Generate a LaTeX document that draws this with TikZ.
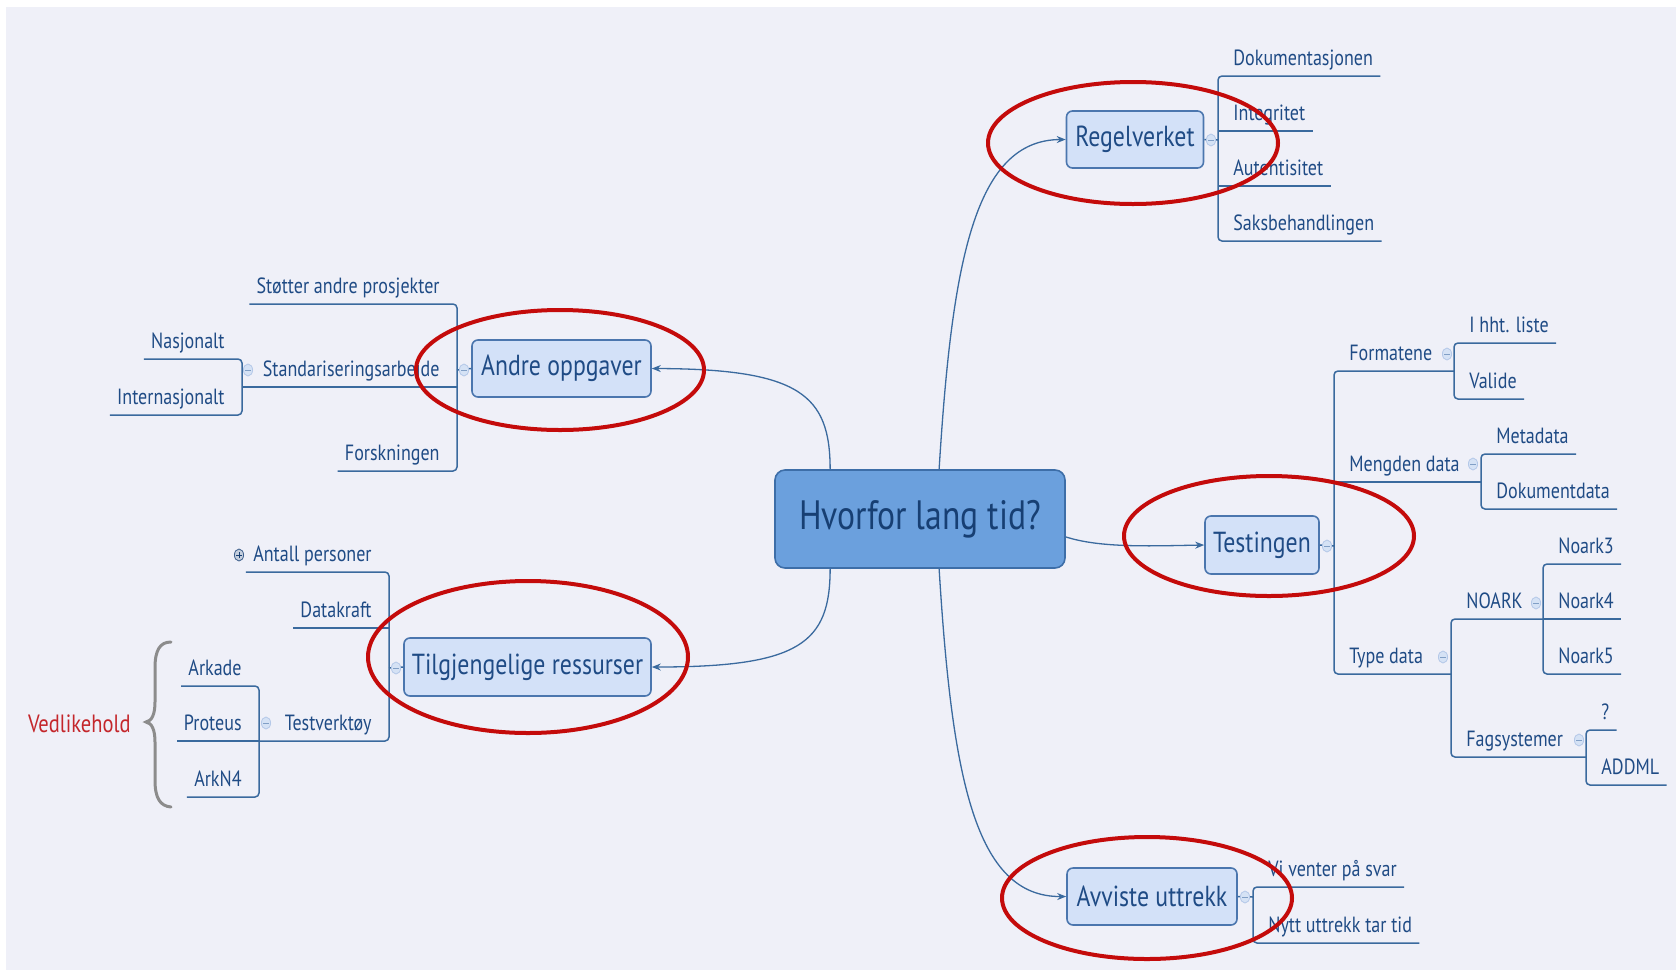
\documentclass[tikz,border=0pt]{standalone}
\usepackage{fontspec}
\setmainfont{PT Sans}[FakeStretch=0.82]
\usetikzlibrary{arrows.meta,shapes.geometric}

\definecolor{paper}{HTML}{EFF0F8}
\definecolor{ink}{HTML}{1F4B85}
\definecolor{rootink}{HTML}{173F73}
\definecolor{wire}{HTML}{3A6A9E}
\definecolor{topicfill}{HTML}{D3E1F8}
\definecolor{topicline}{HTML}{4B76AE}
\definecolor{rootfill}{HTML}{6BA0DD}
\definecolor{rootline}{HTML}{3D6EA8}
\definecolor{ringred}{HTML}{C40B0B}
\definecolor{foldfill}{HTML}{D5E2F5}
\definecolor{foldline}{HTML}{B4C8E8}
\definecolor{bracegray}{HTML}{8C8C8C}
\definecolor{notered}{HTML}{C4262B}

\tikzset{
  root/.style={draw=rootline, fill=rootfill, line width=0.8pt, rounded corners=5pt,
    minimum width=145pt, minimum height=49pt, text=rootink,
    font=\fontsize{20.5}{24}\selectfont},
  topic/.style={draw=topicline, fill=topicfill, line width=0.8pt, rounded corners=3pt,
    minimum height=28.5pt, inner xsep=2pt, text=ink,
    font=\fontsize{14.5}{17}\selectfont},
  leafR/.style={font=\fontsize{11}{13}\selectfont, text=ink, inner xsep=3.5pt,
    inner ysep=0pt, text depth=5pt, anchor=south west},
  leafL/.style={leafR, anchor=south east},
  branch/.style={draw=wire, line width=0.75pt, rounded corners=2pt},
  link/.style={draw=wire, line width=0.65pt, -{Stealth[length=4.5pt,width=3.5pt]}},
  fold/.style={ellipse, fill=foldfill, draw=foldline, line width=0.4pt,
    minimum width=4.6pt, minimum height=6pt, inner sep=0pt,
    path picture={\draw[topicline!70, line width=0.5pt]
      ([xshift=1pt]path picture bounding box.west) -- ([xshift=-1pt]path picture bounding box.east);}},
  unfold/.style={fold, draw=topicline!80!black, fill=foldfill!80!gray,
    path picture={\draw[rootink, line width=0.5pt]
      ([xshift=1pt]path picture bounding box.west) -- ([xshift=-1pt]path picture bounding box.east)
      ([yshift=1.3pt]path picture bounding box.south) -- ([yshift=-1.3pt]path picture bounding box.north);}},
  ring/.style={draw=ringred, line width=2pt},
  note/.style={font=\fontsize{12.5}{15}\selectfont, text=notered, inner sep=0pt}
}

\begin{document}
\begin{tikzpicture}[x=0.5pt, y=-0.5pt]
\useasboundingbox (0,0) rectangle (1676,970);
\fill[white] (0,0) rectangle (1676,970);
\fill[paper] (6,7) rectangle (1676,970);

% topics
\node[root] (hv) at (920,519) {Hvorfor lang tid?};
\node[topic, minimum width=68.5pt] (regel) at (1135,139.5) {Regelverket};
\node[topic, minimum width=89.5pt] (andre) at (561.5,368.5) {Andre oppgaver};
\node[topic, minimum width=57pt, minimum height=29pt] (testing) at (1262,545) {Testingen};
\node[topic, minimum width=123.5pt, minimum height=29pt] (tilg) at (527.5,667) {Tilgjengelige ressurser};
\node[topic, minimum width=85pt] (avv) at (1152,896.5) {Avviste uttrekk};

\draw[link] (hv.69) .. controls (952,260) and (975,140) .. (regel.west);
\draw[link] (hv.-7) .. controls (1100,548) and (1150,546) .. (testing.west);
\draw[link] (hv.-69) .. controls (952,778) and (975,897) .. (avv.west);
\draw[link] (hv.151) .. controls (830,395) and (800,369) .. (andre.east);
\draw[link] (hv.-151) .. controls (830,643) and (800,667) .. (tilg.east);

% spines
\coordinate (regS) at (1218,140);
\coordinate (andS) at (457,370);
\coordinate (stdS) at (242,387);
\coordinate (tilS) at (389,668);
\coordinate (tvS) at (259,741);
\coordinate (tesS) at (1334,546);
\coordinate (forS) at (1454,371);
\coordinate (menS) at (1481,482);
\coordinate (typS) at (1451,674);
\coordinate (noaS) at (1543,619);
\coordinate (fagS) at (1586,757);
\coordinate (avvS) at (1253,897);

% Regelverket
\node[leafR] (dok) at (1226,76) {Dokumentasjonen};
\node[leafR] (integ) at (1226,131) {Integritet};
\node[leafR] (aut) at (1226,186) {Autentisitet};
\node[leafR] (saks) at (1226,241) {Saksbehandlingen};
\draw[branch] (regel.east) -- (regS);
\draw[branch] (dok.south east) -| (regS) |- (saks.south east);
\draw[branch] (regS |- integ.south) -- (integ.south east);
\draw[branch] (regS |- aut.south) -- (aut.south east);
\node[fold] (fRegel) at (1211,140) {};

% Andre oppgaver
\node[leafL] (stoet) at (447,304) {Støtter andre prosjekter};
\node[leafL] (std) at (447,387) {Standariseringsarbeide};
\node[leafL] (forsk) at (447,471) {Forskningen};
\node[leafL] (nasj) at (232,359) {Nasjonalt};
\node[leafL] (intl) at (232,415) {Internasjonalt};
\draw[branch] (andre.west) -- (andS);
\draw[branch] (stoet.south west) -| (andS) |- (forsk.south west);
\draw[branch] (stdS |- std.south) -- (andS |- std.south);
\draw[branch] (nasj.south west) -| (stdS) |- (intl.south west);
\node[fold] (fAndre) at (464,370) {};
\node[fold] (fStd) at (248,370) {};

% Tilgjengelige ressurser
\node[leafL] (antall) at (379,572) {Antall personer};
\node[leafL] (kraft) at (379,628) {Datakraft};
\node[leafL] (tv) at (379,741) {Testverktøy};
\node[leafL] (arkade) at (249,686) {Arkade};
\node[leafL] (proteus) at (249,741) {Proteus};
\node[leafL] (arkn) at (249,797) {ArkN4};
\draw[branch] (tilg.west) -- (tilS);
\draw[branch] (antall.south west) -| (tilS) |- (tvS |- tv.south);
\draw[branch] (tilS |- kraft.south) -- (kraft.south west);
\draw[branch] (arkade.south west) -| (tvS) |- (arkn.south west);
\draw[branch] (tvS |- proteus.south) -- (proteus.south west);
\node[fold] (fTilg) at (396,668) {};
\node[fold] (fTv) at (266,723) {};
\node[unfold] (fAntall) at (239,555) {};

% Testingen
\node[leafR] (fmt) at (1342,371) {Formatene};
\node[leafR] (mengde) at (1342,482) {Mengden data};
\node[leafR] (typ) at (1342,674) {Type data};
\node[leafR] (ihh) at (1462,343) {I hht. liste};
\node[leafR] (valide) at (1462,399) {Valide};
\node[leafR] (meta) at (1489,454) {Metadata};
\node[leafR] (dokd) at (1489,509) {Dokumentdata};
\node[leafR] (noark) at (1459,619) {NOARK};
\node[leafR] (fag) at (1459,757) {Fagsystemer};
\node[leafR] (n3) at (1551,564) {Noark3};
\node[leafR] (n4) at (1551,619) {Noark4};
\node[leafR] (n5) at (1551,674) {Noark5};
\node[leafR] (qm) at (1594,730) {?};
\node[leafR] (addml) at (1594,785) {ADDML};
\draw[branch] (testing.east) -- (tesS);
\draw[branch] (forS |- fmt.south) -| (tesS) |- (typS |- typ.south);
\draw[branch] (tesS |- mengde.south) -- (menS |- mengde.south);
\draw[branch] (ihh.south east) -| (forS) |- (valide.south east);
\draw[branch] (meta.south east) -| (menS) |- (dokd.south east);
\draw[branch] (noaS |- noark.south) -| (typS) |- (fagS |- fag.south);
\draw[branch] (n3.south east) -| (noaS) |- (n5.south east);
\draw[branch] (noaS |- n4.south) -- (n4.south east);
\draw[branch] (qm.south east) -| (fagS) |- (addml.south east);
\node[fold] (fTest) at (1327,546) {};
\node[fold] (fFmt) at (1447,354) {};
\node[fold] (fMen) at (1473,464) {};
\node[fold] (fTyp) at (1443,657) {};
\node[fold] (fNoa) at (1536,603) {};
\node[fold] (fFag) at (1579,740) {};

% Avviste uttrekk
\node[leafR] (venter) at (1261,887) {Vi venter på svar};
\node[leafR] (nytt) at (1261,943) {Nytt uttrekk tar tid};
\draw[branch] (avv.east) -- (avvS);
\draw[branch] (venter.south east) -| (avvS) |- (nytt.south east);
\node[fold] (fAvv) at (1245,897) {};

% Vedlikehold
\draw[bracegray, line width=1.5pt, line cap=round]
  (171,642) .. controls (160,642) and (155,650) .. (155,668) -- (155,702)
  .. controls (155,714) and (152,721) .. (146,722)
  .. controls (152,723) and (155,730) .. (155,742) -- (155,780)
  .. controls (155,798) and (160,806) .. (171,807);
\node[note, anchor=base east] (vedl) at (131,732) {Vedlikehold};

% red rings
\draw[ring] (1133,143) ellipse [x radius=145, y radius=61];
\draw[ring] (560,370) ellipse [x radius=144, y radius=60];
\draw[ring] (1269,536) ellipse [x radius=145, y radius=60];
\draw[ring] (528,657) ellipse [x radius=160, y radius=76];
\draw[ring] (1147,898) ellipse [x radius=145, y radius=61];
\end{tikzpicture}
\end{document}
